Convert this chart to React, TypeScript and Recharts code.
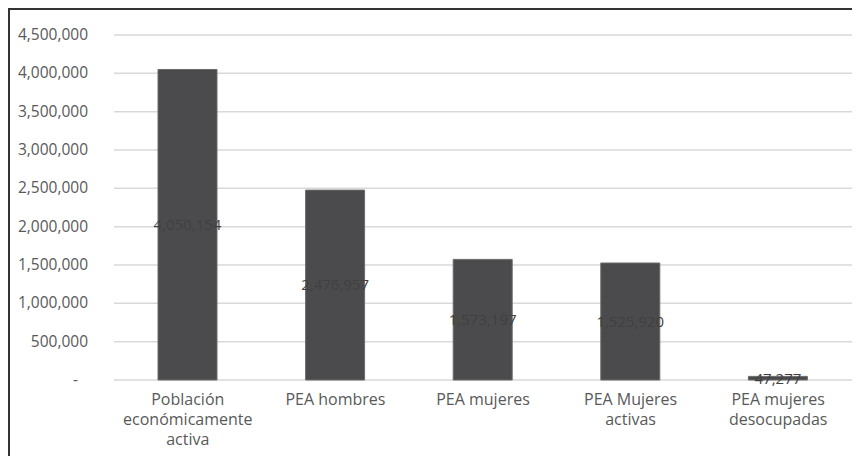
import React from "react";
import { BarChart, Bar, XAxis, YAxis, CartesianGrid, LabelList } from "recharts";

const categories = [
  "Población económicamente activa",
  "PEA hombres",
  "PEA mujeres",
  "PEA Mujeres activas",
  "PEA mujeres desocupadas",
];
const values = [4050154, 2476957, 1573197, 1525920, 47277];
const yTicks = [0, 500000, 1000000, 1500000, 2000000, 2500000, 3000000, 3500000, 4000000, 4500000];

const data = categories.map((name, i) => ({ name, value: values[i] }));

const FONT = "'Open Sans', 'Liberation Sans', sans-serif";
const fmt = (v: number) => (v === 0 ? "-" : v.toLocaleString("en-US"));

// greedy word wrap, roughly like Excel does for the category labels
const wrap = (text: string, max = 14) => {
  const lines: string[] = [];
  let cur = "";
  text.split(" ").forEach((w) => {
    if (cur && (cur + " " + w).length > max) {
      lines.push(cur);
      cur = w;
    } else {
      cur = cur ? cur + " " + w : w;
    }
  });
  if (cur) lines.push(cur);
  return lines;
};

const CategoryTick = (props: any) => {
  const { x, y, payload } = props;
  const lines = wrap(payload.value);
  return (
    <text x={x} y={y + 17} textAnchor="middle" fill="#595959" fontSize={16} fontFamily={FONT}>
      {lines.map((l, i) => (
        <tspan key={i} x={x} dy={i === 0 ? 0 : 20}>
          {l}
        </tspan>
      ))}
    </text>
  );
};

const ValueTick = (props: any) => {
  const { x, y, payload } = props;
  const zero = payload.value === 0;
  return (
    <text x={zero ? x - 8 : x + 2} y={y + 5} textAnchor="end" fill="#595959" fontSize={15.5} fontFamily={FONT}>
      {fmt(payload.value)}
    </text>
  );
};

export default function App() {
  return (
    <div style={{ width: 844, height: 460, border: "2px solid #333", background: "#fff" }}>
      <BarChart
        width={844}
        height={446}
        data={data}
        margin={{ top: 25, right: 2, left: 0, bottom: 6 }}
        barSize={59}
      >
        <CartesianGrid vertical={false} stroke="#d9d9d9" strokeWidth={1.5} />
        <XAxis
          dataKey="name"
          axisLine={false}
          tickLine={false}
          height={70}
          interval={0}
          tick={<CategoryTick />}
        />
        <YAxis
          domain={[0, 4500000]}
          ticks={yTicks}
          axisLine={false}
          tickLine={false}
          width={104}
          tick={<ValueTick />}
          tickMargin={22}
        />
        <Bar dataKey="value" fill="#4b4b4d" stroke="#6a6a6a" strokeWidth={1} isAnimationActive={false}>
          <LabelList
            dataKey="value"
            position="center"
            formatter={(v: any) => Number(v).toLocaleString("en-US")}
            fill="#404040"
            fontSize={15}
            fontFamily={FONT}
          />
        </Bar>
      </BarChart>
    </div>
  );
}
